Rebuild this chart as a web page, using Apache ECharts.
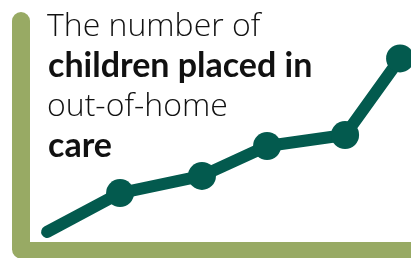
<!DOCTYPE html>
<html>
<head>
<meta charset="utf-8">
<script src="https://cdn.jsdelivr.net/npm/echarts@6/dist/echarts.min.js"></script>
<style>
  html, body { margin: 0; padding: 0; background: #fff; }
  #chart { width: 411px; height: 258px; }
</style>
</head>
<body>
<div id="chart"></div>
<script>
// 数据（x、y 都是相对刻度 0-100）
var periods = [6.7, 25.4, 46.4, 63.1, 83.1, 97.2];
var placements = [7.7, 24.7, 32.2, 45.3, 50.1, 83.6];
var titleLines = [
  { text: "The number of", bold: false },
  { text: "children placed in", bold: true },
  { text: "out-of-home", bold: false },
  { text: "care", bold: true }
];

var olive = "#98aa64";
var teal = "#035a4e";

var myChart = echarts.init(document.getElementById("chart"));

var seriesData = periods.map(function (x, i) {
  var item = { value: [x, placements[i]] };
  if (i === 0) item.symbol = "none";
  return item;
});

var option = {
  animation: false,
  grid: { left: 21, right: 0, top: 21, bottom: 8.5 },
  xAxis: {
    type: "value",
    min: 0,
    max: 100,
    axisLine: { show: true, onZero: false, lineStyle: { color: olive, width: 16, cap: "round" } },
    axisTick: { show: false },
    axisLabel: { show: false },
    splitLine: { show: false }
  },
  yAxis: {
    type: "value",
    min: 0,
    max: 100,
    axisLine: { show: true, onZero: false, lineStyle: { color: olive, width: 18, cap: "round" } },
    axisTick: { show: false },
    axisLabel: { show: false },
    splitLine: { show: false }
  },
  graphic: titleLines.map(function (l, i) {
    return {
      type: "text",
      left: l.bold ? 48 : 47,
      top: (l.bold ? 9 : 11) + i * 40,
      style: {
        text: l.text,
        fill: "#111",
        font: l.bold ? "bold 34px Lato" : "300 32px 'Open Sans'"
      }
    };
  }),
  series: [
    {
      type: "line",
      data: seriesData,
      symbol: "circle",
      symbolSize: 28,
      showSymbol: true,
      itemStyle: { color: teal },
      lineStyle: { color: teal, width: 12, cap: "round", join: "round" },
      z: 3
    }
  ]
};

myChart.setOption(option);
</script>
</body>
</html>
